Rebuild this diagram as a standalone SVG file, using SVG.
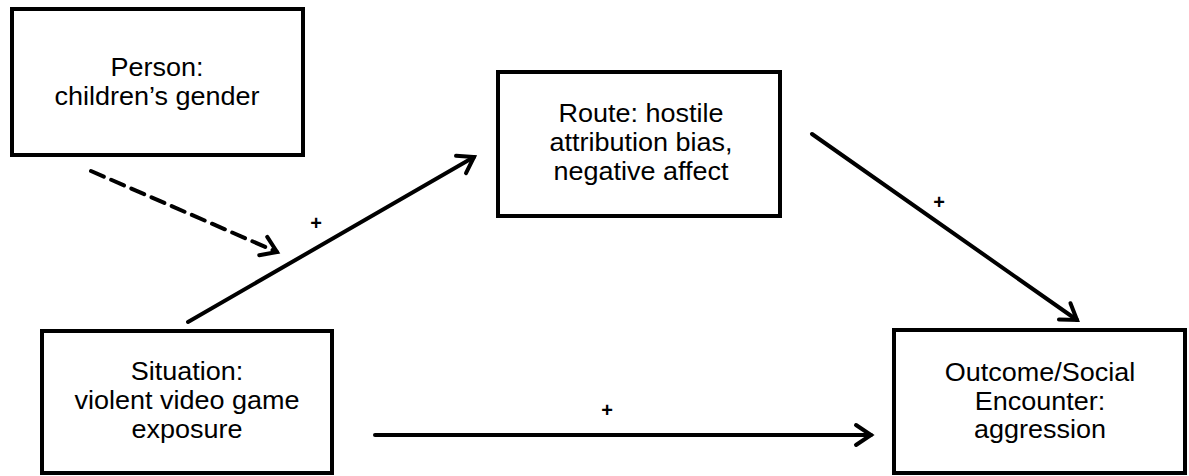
<svg xmlns="http://www.w3.org/2000/svg" width="1189" height="476" viewBox="0 0 1189 476">
<style>
.box{fill:#fff;stroke:#000;stroke-width:4}
.t{font-family:"Liberation Sans",Arial,sans-serif;font-size:25px;fill:#000;text-anchor:middle}
.c{stroke:#000;stroke-width:4;fill:none;stroke-linecap:round}
.p{font-family:"Liberation Sans",Arial,sans-serif;font-size:20px;font-weight:bold;fill:#000;text-anchor:middle}
</style>
<defs>
<marker id="ah" markerUnits="userSpaceOnUse" viewBox="-20 -14 24 28" refX="0" refY="0" markerWidth="24" markerHeight="28" orient="auto">
<path d="M -15 -10 L 0 0 L -15 10" fill="none" stroke="#000" stroke-width="4" stroke-linecap="round" stroke-linejoin="miter"/>
</marker>
</defs>
<rect width="1189" height="476" fill="#fff"/>
<g id="person">
<rect class="box" x="12" y="9" width="291" height="146"/>
<g transform="translate(157,0) scale(1.08,1)"><text class="t" x="0" y="76">Person:</text><text class="t" x="0" y="105">children’s gender</text></g>
</g>
<g id="route">
<rect class="box" x="498" y="72" width="282" height="144"/>
<g transform="translate(641,0) scale(1.08,1)"><text class="t" x="0" y="122">Route: hostile</text><text class="t" x="0" y="151">attribution bias,</text><text class="t" x="0" y="180">negative affect</text></g>
</g>
<g id="situation">
<rect class="box" x="42" y="331" width="290" height="142"/>
<g transform="translate(187,0) scale(1.08,1)"><text class="t" x="0" y="380">Situation:</text><text class="t" x="0" y="409">violent video game</text><text class="t" x="0" y="438">exposure</text></g>
</g>
<g id="outcome">
<rect class="box" x="894" y="330" width="291" height="143"/>
<g transform="translate(1040,0) scale(1.08,1)"><text class="t" x="0" y="381">Outcome/Social</text><text class="t" x="0" y="410">Encounter:</text><text class="t" x="0" y="438">aggression</text></g>
</g>
<g id="connectors">
<line class="c" x1="91" y1="171" x2="277" y2="252" stroke-dasharray="14 8" stroke-linecap="butt" marker-end="url(#ah)"/>
<line class="c" x1="188" y1="322" x2="474" y2="157" marker-end="url(#ah)"/>
<line class="c" x1="812" y1="134" x2="1077" y2="320" marker-end="url(#ah)"/>
<line class="c" x1="375" y1="435" x2="871" y2="435" marker-end="url(#ah)"/>
<text class="p" x="316" y="230">+</text>
<text class="p" x="939" y="209">+</text>
<text class="p" x="607" y="417">+</text>
</g>
</svg>
